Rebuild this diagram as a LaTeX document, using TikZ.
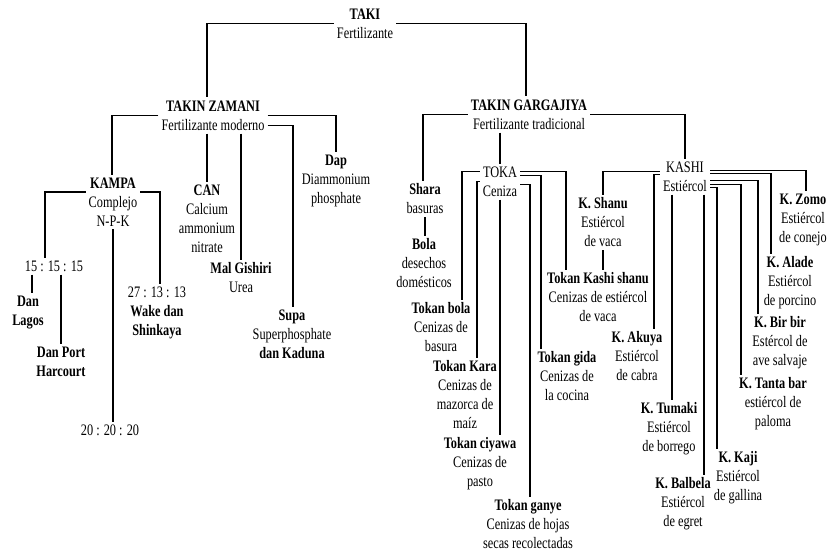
\documentclass[tikz,border=0pt]{standalone}
\usepackage{fontspec}
\setmainfont{Liberation Serif}[FakeStretch=0.77]
\usetikzlibrary{calc}

\begin{document}
\begin{tikzpicture}[
    x=1pt, y=-1pt,
    term/.style={anchor=north, align=center, inner sep=3pt,
                 font=\fontsize{16}{19}\selectfont},
    link/.style={draw=black, line width=1.7pt},
]
\useasboundingbox (0,0) rectangle (828,551);

% root and the two main branches
\node[term] (taki)   at (365,5.5)  {\textbf{TAKI}\\Fertilizante};
\node[term] (zamani) at (213,97.5) {\textbf{TAKIN ZAMANI}\\Fertilizante moderno};
\node[term] (garg)   at (529,96.5) {\textbf{TAKIN GARGAJIYA}\\Fertilizante tradicional};

% modern fertilizers
\node[term] (kampa) at (113,174.5) {\textbf{KAMPA}\\Complejo\\N-P-K};
\node[term] (can)   at (207,181.5) {\textbf{CAN}\\Calcium\\ammonium\\nitrate};
\node[term] (mal)   at (241,259.5) {\textbf{Mal Gishiri}\\Urea};
\node[term] (dap)   at (336,151.5) {\textbf{Dap}\\Diammonium\\phosphate};
\node[term] (supa)  at (292,306.5) {\textbf{Supa}\\Superphosphate\\\textbf{dan Kaduna}};
\node[term] (r15)   at (54,257.5)  {15 : 15 : 15};
\node[term] (r27)   at (157,283.5) {27 : 13 : 13\\\textbf{Wake dan}\\\textbf{Shinkaya}};
\node[term] (r20)   at (110,421.5) {20 : 20 : 20};
\node[term] (lagos) at (28,292.5)  {\textbf{Dan}\\\textbf{Lagos}};
\node[term] (port)  at (61,343.5)  {\textbf{Dan Port}\\\textbf{Harcourt}};

% traditional fertilizers
\node[term] (shara) at (425,180.5) {\textbf{Shara}\\basuras};
\node[term] (bola)  at (424,235.5) {\textbf{Bola}\\desechos\\domésticos};
\node[term] (toka)  at (500,163.5) {TOKA\\Ceniza};
\node[term] (kashi) at (685,158.5) {KASHI\\Estiércol};

% ashes
\node[term] (tbola)  at (441,299.5) {\textbf{Tokan bola}\\Cenizas de\\basura};
\node[term] (tkara)  at (465,357.5) {\textbf{Tokan Kara}\\Cenizas de\\mazorca de\\maíz};
\node[term] (tciy)   at (480,434.5) {\textbf{Tokan ciyawa}\\Cenizas de\\pasto};
\node[term] (tganye) at (528,496.5) {\textbf{Tokan ganye}\\Cenizas de hojas\\secas recolectadas};
\node[term] (tgida)  at (567,348.5) {\textbf{Tokan gida}\\Cenizas de\\la cocina};
\node[term] (tks)    at (598,269.5) {\textbf{Tokan Kashi shanu}\\Cenizas de estiércol\\de vaca};

% manures
\node[term] (kshanu)   at (603,194.5) {\textbf{K. Shanu}\\Estiércol\\de vaca};
\node[term] (kakuya)   at (637,328.5) {\textbf{K. Akuya}\\Estiércol\\de cabra};
\node[term] (ktumaki)  at (669,399.5) {\textbf{K. Tumaki}\\Estiércol\\de borrego};
\node[term] (kbalbela) at (683,474.5) {\textbf{K. Balbela}\\Estiércol\\de egret};
\node[term] (kkaji)    at (738,448.5) {\textbf{K. Kaji}\\Estiércol\\de gallina};
\node[term] (ktanta)   at (773,374.5) {\textbf{K. Tanta bar}\\estiércol de\\paloma};
\node[term] (kbirbir)  at (780,313.5) {\textbf{K. Bir bir}\\Estércol de\\ave salvaje};
\node[term] (kalade)   at (790,253.5) {\textbf{K. Alade}\\Estiércol\\de porcino};
\node[term] (kzomo)    at (803,190.5) {\textbf{K. Zomo}\\Estiércol\\de conejo};

% links
\draw[link] (taki.west) -| ([xshift=-6pt]zamani.north);
\draw[link] (taki.east) -| ([xshift=-3pt]garg.north);

\draw[link] (zamani.west) -| ([xshift=-1pt]kampa.north);
\draw[link] (zamani.south -| can.north) -- (can.north);
\draw[link] (zamani.south -| mal.north) -- (mal.north);
\draw[link] ([yshift=-10pt]zamani.east) -| ([xshift=1pt]supa.north);
\draw[link] (zamani.east) -| (dap.north);

\draw[link] ([yshift=10pt]kampa.west) -| ([xshift=-9pt]r15.north);
\draw[link] ([yshift=10pt]kampa.east) -| ([xshift=3pt]r27.north);
\draw[link] (kampa.south) -- (kampa.south |- r20.north);
\draw[link] ($(r15.south -| lagos.north)+(4,0)$) -- ($(lagos.north)+(4,0)$);
\draw[link] (r15.south -| port.north) -- (port.north);

\draw[link] (garg.west) -| ([xshift=-2pt]shara.north);
\draw[link] (garg.south -| toka.north) -- (toka.north);
\draw[link] (garg.east) -| (kashi.north);
\draw[link] (shara.south) -- (shara.south |- bola.north);

\draw[link] ([yshift=10pt]toka.west) -| ([xshift=21pt]tbola.north);
\draw[link] (toka.west) -| ([xshift=12pt]tkara.north);
\draw[link] (toka.south) -- (toka.south |- tciy.north);
\draw[link] ([yshift=-3pt]toka.east) -| ([xshift=2pt]tganye.north);
\draw[link] ([yshift=6pt]toka.east) -| ([xshift=-26pt]tgida.north);
\draw[link] ([yshift=10pt]toka.east) -| ([xshift=-32pt]tks.north);
\draw[link] (kshanu.south) -- (kshanu.south |- tks.north);

\draw[link] ([yshift=5pt]kashi.west) -| (kshanu.north);
\draw[link] ([yshift=2pt]kashi.west) -| ([xshift=17pt]kakuya.north);
\draw[link] ($(kashi.south -| ktumaki.north)+(3,0)$) -- ($(ktumaki.north)+(3,0)$);
\draw[link] ($(kashi.south -| kbalbela.north)+(21,0)$) -- ($(kbalbela.north)+(21,0)$);
\draw[link] ([yshift=-11pt]kashi.east) -| ([xshift=-21pt]kkaji.north);
\draw[link] ([yshift=-8pt]kashi.east) -| ([xshift=-32pt]ktanta.north);
\draw[link] ([yshift=-4pt]kashi.east) -| ([xshift=-22pt]kbirbir.north);
\draw[link] ([yshift=3pt]kashi.east) -| ([xshift=-19pt]kalade.north);
\draw[link] ([yshift=6pt]kashi.east) -| ([xshift=3pt]kzomo.north);
\end{tikzpicture}
\end{document}
